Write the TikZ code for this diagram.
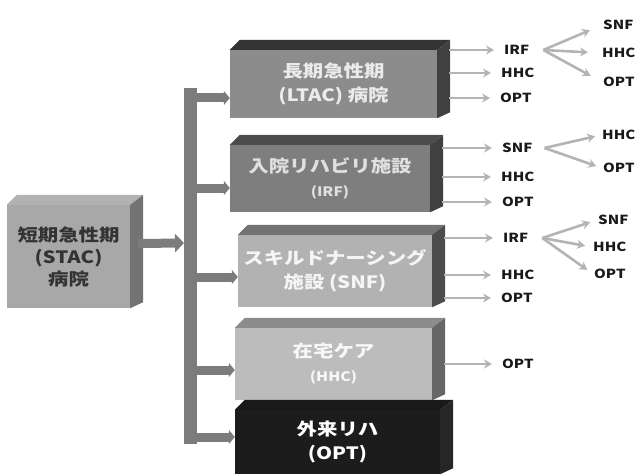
\documentclass[tikz,border=0pt]{standalone}
\usepackage{fontspec}
\setmainfont{Noto Sans CJK JP}
\newfontfamily\jpw{Noto Sans CJK JP}[FakeStretch=1.2]
\usetikzlibrary{arrows.meta,calc}
\definecolor{ltacf}{HTML}{8C8C8C}
\definecolor{irff}{HTML}{7E7E7E}
\definecolor{snff}{HTML}{B2B2B2}
\definecolor{hhcf}{HTML}{BCBCBC}
\definecolor{optf}{HTML}{1C1C1C}
\definecolor{stacf}{HTML}{A8A8A8}
\definecolor{barc}{HTML}{7C7C7C}
\definecolor{outc}{HTML}{B4B4B4}
\newcommand\threed[3]{%
  \fill[#2] (#1.north west) -- ($(#1.north west)+(10,-10)$) -- ($(#1.north east)+(13,-10)$) -- (#1.north east) -- cycle;
  \fill[#3] (#1.north east) -- ($(#1.north east)+(13,-10)$) -- ($(#1.south east)+(13,-6)$) -- (#1.south east) -- cycle;}
\begin{document}
\begin{tikzpicture}[x=1pt,y=-1pt,
  box/.style={draw=none, inner sep=0pt, align=center, text=white,
    font=\jpw\bfseries\fontsize{17}{24}\selectfont},
  lab/.style={anchor=west, inner sep=1pt, text=black!90,
    font=\jpw\bfseries\fontsize{12.5}{13}\selectfont},
  outarr/.style={draw=outc, line width=2.6pt, -{Stealth[length=8pt,width=9pt]}},
  arm/.style={draw=barc, line width=9pt, -{Triangle[length=6pt,width=14pt]}}]
\useasboundingbox (0,0) rectangle (640,476);

% boxes
\node[box, fill=stacf, text=black!80, minimum width=123pt, minimum height=103pt,
  font=\jpw\bfseries\fontsize{17}{22}\selectfont] (stac) at (68.5,256.5)
  {短期急性期\\(STAC)\\病院};
\threed{stac}{black!30}{black!55}

\node[box, fill=ltacf, text=black!8, minimum width=207pt, minimum height=68pt] (ltac) at (333.5,84)
  {長期急性期\\(LTAC) 病院};
\threed{ltac}{black!80}{black!75}

\node[box, fill=irff, text=black!12, minimum width=200pt, minimum height=67pt] (irf) at (330,178.5)
  {入院リハビリ施設\\{\fontsize{13}{14}\selectfont (IRF)}};
\threed{irf}{black!70}{black!75}

\node[box, fill=snff, text=black!4, minimum width=194pt, minimum height=72pt] (snf) at (335,271)
  {スキルドナーシング\\施設 (SNF)};
\threed{snf}{black!55}{black!70}

\node[box, fill=hhcf, text=black!3, minimum width=197pt, minimum height=72pt] (hhc) at (333.5,364)
  {在宅ケア\\{\fontsize{13}{14}\selectfont (HHC)}};
\threed{hhc}{black!45}{black!60}

\node[box, fill=optf, text=white, minimum width=205pt, minimum height=64pt] (opt) at (337.5,442)
  {外来リハ\\(OPT)};
\threed{opt}{black!90}{black!85}

% trunk
\coordinate (bartop) at (190,88);
\coordinate (barbot) at (190,444);
\draw[barc, line width=13pt] (bartop) -- (barbot);
\draw[draw=barc, line width=9pt, -{Triangle[length=9pt,width=18pt]}]
  ($(stac.east)+(8,-13)$) -- ($(bartop |- 0,243)+(-6,0)$);
\draw[arm] (bartop |- 0,98) -- (ltac.west |- 0,98);
\draw[arm] (bartop |- 0,188) -- (irf.west |- 0,188);
\draw[arm] (bartop |- 0,277) -- (snf.west |- 0,277);
\draw[arm] (bartop |- 0,370) -- (hhc.west |- 0,370);
\draw[arm] (bartop |- 0,437) -- (opt.west |- 0,437);

% LTAC outputs
\node[lab] (l1) at (503,50) {IRF};
\node[lab] (l2) at (500,73) {HHC};
\node[lab] (l3) at (499,98) {OPT};
\node[lab] (l4) at (602,25) {SNF};
\node[lab] (l5) at (601,53) {HHC};
\node[lab] (l6) at (602,82) {OPT};
\foreach \n in {l1,l2,l3}
  \draw[outarr, shorten >=9pt] ($(ltac.east |- \n)+(12,0)$) -- (\n.west);
\foreach \n in {l4,l5,l6}
  \draw[outarr, shorten >=13pt] ($(l1.east)+(13,0)$) -- (\n.west);

% IRF outputs
\node[lab] (i1) at (501,148) {SNF};
\node[lab] (i2) at (500,177) {HHC};
\node[lab] (i3) at (501,202) {OPT};
\node[lab] (i4) at (601,135) {HHC};
\node[lab] (i5) at (602,168) {OPT};
\foreach \n in {i1,i2,i3}
  \draw[outarr, shorten >=9pt] ($(irf.east |- \n)+(12,0)$) -- (\n.west);
\foreach \n in {i4,i5}
  \draw[outarr, shorten >=6pt] ($(i1.east)+(11,0)$) -- (\n.west);

% SNF outputs
\node[lab] (s1) at (502,238) {IRF};
\node[lab] (s2) at (500,275) {HHC};
\node[lab] (s3) at (500,298) {OPT};
\node[lab] (s4) at (597,220) {SNF};
\node[lab] (s5) at (592,247) {HHC};
\node[lab] (s6) at (593,274) {OPT};
\foreach \n in {s1,s2,s3}
  \draw[outarr, shorten >=9pt] ($(snf.east |- \n)+(12,0)$) -- (\n.west);
\foreach \n in {s4,s5,s6}
  \draw[outarr, shorten >=7pt] ($(s1.east)+(13,0)$) -- (\n.west);

% HHC output
\node[lab] (h1) at (501,364) {OPT};
\draw[outarr, shorten >=9pt] ($(hhc.east |- h1)+(12,0)$) -- (h1.west);
\end{tikzpicture}
\end{document}
